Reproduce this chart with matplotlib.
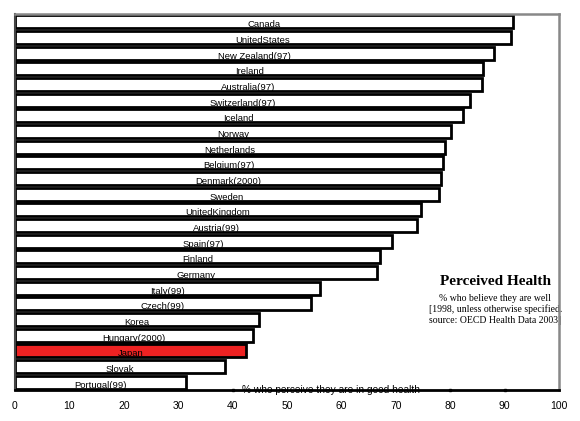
import matplotlib
matplotlib.use("Agg")
import matplotlib.pyplot as plt

countries = ["Canada", "UnitedStates", "New Zealand(97)", "Ireland", "Australia(97)",
             "Switzerland(97)", "Iceland", "Norway", "Netherlands", "Belgium(97)",
             "Denmark(2000)", "Sweden", "UnitedKingdom", "Austria(99)", "Spain(97)",
             "Finland", "Germany", "Italy(99)", "Czech(99)", "Korea", "Hungary(2000)",
             "Japan", "Slovak", "Portugal(99)"]
values = [91.5, 91.2, 88.1, 86.1, 85.8, 83.7, 82.3, 80.1, 79.0, 78.7, 78.4, 78.0,
          74.6, 73.9, 69.3, 67.1, 66.6, 56.0, 54.4, 44.9, 43.7, 42.5, 38.6, 31.4]
highlight = "Japan"
xticks = [0, 10, 20, 30, 40, 50, 60, 70, 80, 90, 100]
legend_label = "% who perceive they are in good health"
title = "Perceived Health"
subtitle = ["% who believe they are well", "[1998, unless otherwise specified.",
            "source: OECD Health Data 2003]"]

fig = plt.figure(figsize=(5.8, 4.21), dpi=100)
ax = fig.add_axes([15/580, 1-390/421, (559-15)/580, (390-14)/421])

n = len(countries)
ys = list(range(n))
colors = ["#EE2222" if c == highlight else "white" for c in countries]
ax.barh(ys, values, height=0.82, color=colors, edgecolor="black", linewidth=2.0, zorder=2)
for y, v, c in zip(ys, values, countries):
    ax.text(v/2, y + 0.2, c, ha="center", va="center", fontsize=6.8,
            family="Liberation Sans", zorder=3)

ax.set_xlim(0, 100)
ax.set_ylim(n - 0.5, -0.5)
ax.set_yticks([])
ax.set_xticks(xticks)
ax.set_xticklabels([str(t) for t in xticks], fontsize=7.5, family="Liberation Sans")
ax.tick_params(axis="x", length=0, pad=8)

for s in ["top", "right"]:
    ax.spines[s].set_color("#888888")
    ax.spines[s].set_linewidth(1.8)
ax.spines["left"].set_color("#444444")
ax.spines["left"].set_linewidth(1.5)
ax.spines["bottom"].set_color("black")
ax.spines["bottom"].set_linewidth(2)

# legend-like text on bottom axis
ax.plot([40, 80, 90], [n - 0.5]*3, "s", color="black", markersize=1.8, clip_on=False, zorder=4)
ax.text(41.8, n - 0.5, legend_label, ha="left", va="center", fontsize=7.3,
        family="Liberation Sans", clip_on=False, zorder=4)

ax.text(88.3, 16.55, title, ha="center", va="center", fontsize=11, fontweight="bold",
        family="Liberation Serif", zorder=1, clip_on=False)
for i, line in enumerate(subtitle):
    ax.text(88.3, 17.65 + i*0.72, line, ha="center", va="center", fontsize=7,
            family="Liberation Serif", zorder=1, clip_on=False)

fig.savefig("out.png", dpi=100)
